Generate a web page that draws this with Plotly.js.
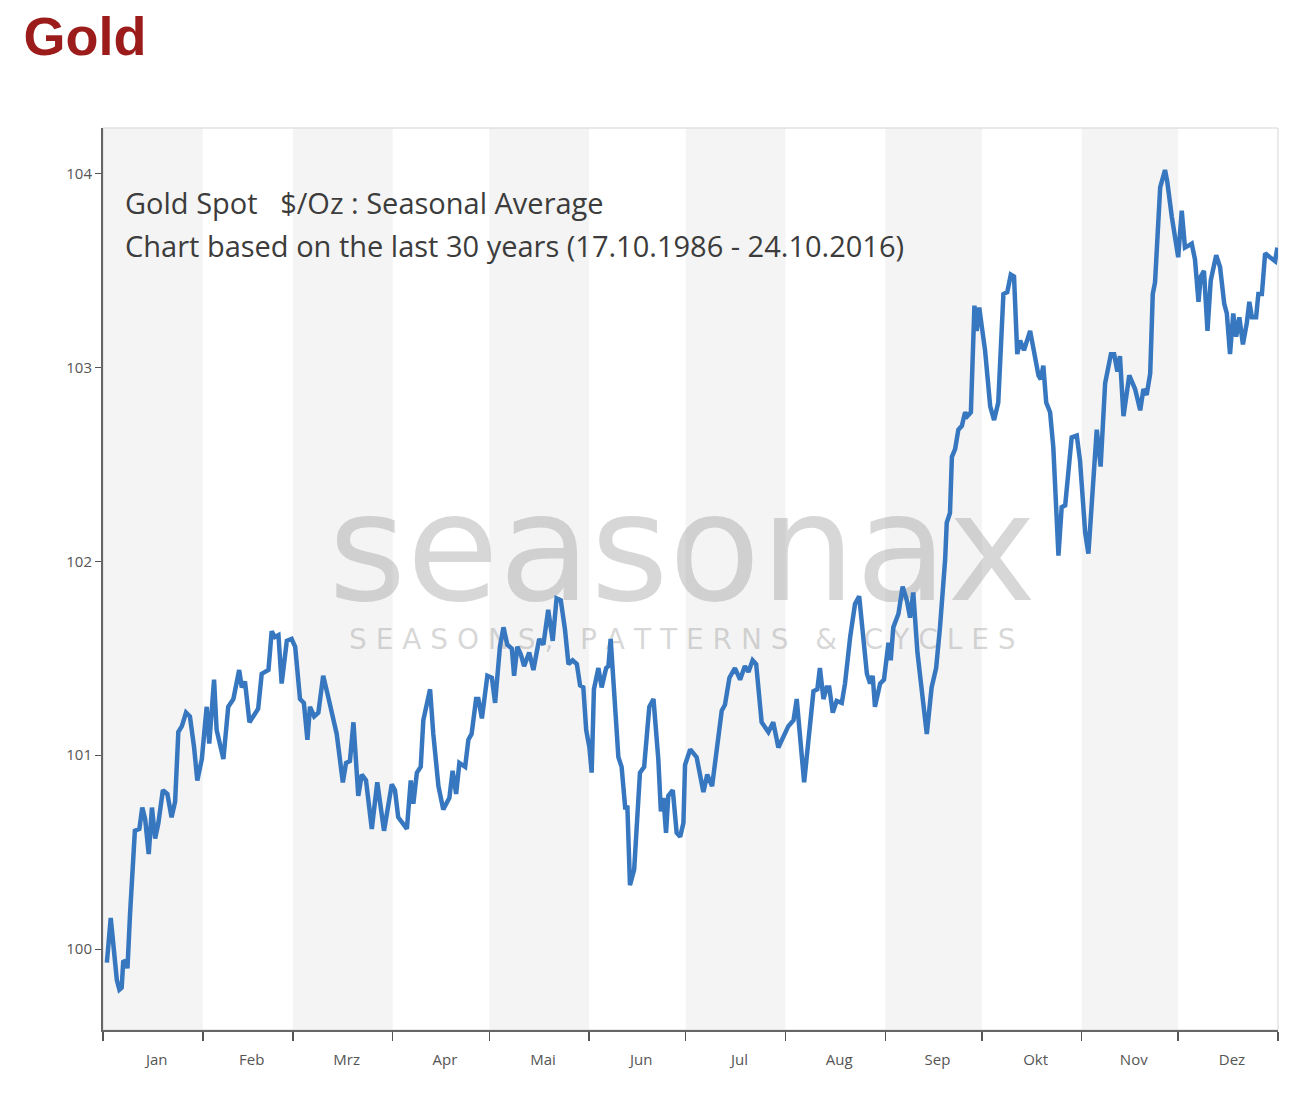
<!DOCTYPE html>
<html>
<head>
<meta charset="utf-8">
<script src="https://cdn.plot.ly/plotly-3.0.1.min.js"></script>
<style>
  html, body { margin: 0; padding: 0; background: #fff; }
  #chart { width: 1303px; height: 1099px; }
</style>
</head>
<body>
<div id="chart"></div>
<script>
const monate = ['Jan', 'Feb', 'Mrz', 'Apr', 'Mai', 'Jun', 'Jul', 'Aug', 'Sep', 'Okt', 'Nov', 'Dez'];
const monatsTage = [31, 28, 31, 30, 31, 30, 31, 31, 30, 31, 30, 31];
const yTicks = [100, 101, 102, 103, 104];

// Tag im Jahr und saisonaler Durchschnitt
const tage = [
  1.2, 2.4, 4.3, 5.1, 5.8, 6.3, 7.2, 7.6, 8.4, 9.9,
  11.3, 12.2, 13.1, 14.2, 15.2, 16.2, 17.2, 18.6, 20.0, 21.3,
  22.4, 23.4, 24.5, 25.8, 27.0, 28.3, 29.3, 30.7, 32.2, 33.0,
  34.5, 35.3, 37.4, 38.9, 40.5, 42.3, 43.1, 44.1, 45.5, 46.9,
  48.2, 49.3, 51.4, 52.4, 53.4, 54.5, 55.5, 57.1, 58.6, 59.7,
  61.2, 62.4, 63.5, 64.3, 65.6, 66.9, 68.4, 69.7, 71.1, 72.6,
  74.5, 75.5, 76.7, 77.8, 79.3, 80.4, 81.7, 83.5, 85.2, 87.3,
  89.7, 90.7, 91.7, 94.4, 95.6, 96.4, 97.5, 98.7, 99.5, 101.6,
  102.6, 104.2, 105.7, 107.6, 108.6, 109.7, 110.7, 112.5, 113.5, 114.5,
  115.9, 116.6, 117.7, 119.4, 120.8, 121.8, 123.3, 124.4, 125.6, 127.0,
  127.7, 128.7, 129.8, 130.8, 132.4, 133.7, 135.5, 136.8, 138.3, 139.7,
  140.9, 142.2, 143.5, 144.6, 145.9, 147.2, 148.2, 149.2, 150.1, 151.1,
  151.8, 152.5, 153.9, 154.9, 156.3, 157.0, 157.7, 158.7, 160.1, 161.1,
  162.2, 162.9, 163.7, 165.0, 166.8, 168.1, 169.7, 171.0, 172.5, 173.3,
  174.1, 174.9, 175.6, 177.0, 178.2, 179.3, 180.3, 180.8, 182.4, 184.4,
  186.5, 187.7, 189.2, 192.2, 193.2, 194.6, 196.3, 197.9, 199.4, 200.5,
  201.8, 202.9, 204.6, 206.7, 208.2, 209.8, 211.3, 212.9, 214.5, 215.5,
  217.8, 220.7, 221.9, 222.7, 223.8, 224.8, 225.6, 226.7, 227.9, 229.5,
  230.5, 232.1, 233.6, 234.9, 237.3, 238.3, 239.1, 239.8, 241.4, 242.6,
  244.0, 244.7, 245.5, 247.1, 248.4, 249.7, 250.7, 251.7, 253.0, 255.9,
  257.4, 258.8, 260.0, 261.6, 262.1, 263.1, 263.7, 264.7, 265.7, 266.8,
  267.8, 268.5, 269.6, 270.7, 271.4, 272.2, 273.0, 274.0, 275.6, 276.8,
  278.1, 279.7, 280.9, 282.0, 283.0, 284.0, 284.9, 286.1, 288.0, 289.5,
  290.6, 291.3, 292.1, 293.0, 294.2, 295.2, 296.8, 297.8, 298.9, 300.9,
  302.5, 303.5, 305.1, 306.1, 307.1, 308.7, 309.9, 310.8, 311.3, 313.1,
  314.1, 315.1, 315.9, 317.0, 318.8, 320.6, 322.2, 323.2, 324.2, 325.3,
  326.1, 326.8, 328.4, 329.9, 330.6, 332.0, 334.0, 335.1, 336.1, 337.2,
  338.2, 339.2, 340.3, 341.0, 342.0, 343.1, 344.1, 345.8, 347.0, 348.3,
  349.1, 350.1, 351.1, 352.0, 353.0, 354.1, 355.3, 356.1, 356.9, 358.2,
  358.9, 360.0, 361.0, 362.5, 364.1, 364.8
];

const werte = [
  99.93, 100.16, 99.84, 99.79, 99.80, 99.94, 99.93, 99.90, 100.18, 100.61,
  100.62, 100.73, 100.67, 100.49, 100.73, 100.57, 100.65, 100.82, 100.80, 100.68,
  100.76, 101.12, 101.15, 101.22, 101.20, 101.04, 100.87, 100.98, 101.25, 101.06,
  101.39, 101.13, 100.98, 101.25, 101.29, 101.44, 101.35, 101.38, 101.17, 101.21,
  101.24, 101.42, 101.44, 101.64, 101.61, 101.62, 101.37, 101.59, 101.60, 101.56,
  101.29, 101.27, 101.08, 101.25, 101.20, 101.22, 101.41, 101.32, 101.22, 101.11,
  100.86, 100.96, 100.97, 101.17, 100.79, 100.90, 100.87, 100.62, 100.86, 100.61,
  100.85, 100.82, 100.68, 100.62, 100.87, 100.75, 100.91, 100.94, 101.18, 101.34,
  101.11, 100.84, 100.72, 100.78, 100.92, 100.80, 100.96, 100.94, 101.08, 101.11,
  101.29, 101.29, 101.19, 101.41, 101.40, 101.27, 101.56, 101.66, 101.57, 101.55,
  101.41, 101.56, 101.52, 101.46, 101.53, 101.44, 101.60, 101.57, 101.75, 101.59,
  101.81, 101.80, 101.65, 101.47, 101.49, 101.47, 101.36, 101.35, 101.13, 101.04,
  100.91, 101.34, 101.45, 101.35, 101.45, 101.46, 101.60, 101.32, 100.99, 100.94,
  100.73, 100.73, 100.33, 100.41, 100.91, 100.94, 101.25, 101.29, 100.98, 100.71,
  100.78, 100.60, 100.79, 100.82, 100.60, 100.58, 100.65, 100.95, 101.03, 100.99,
  100.81, 100.90, 100.84, 101.23, 101.26, 101.40, 101.45, 101.39, 101.46, 101.43,
  101.49, 101.47, 101.17, 101.12, 101.17, 101.04, 101.10, 101.15, 101.18, 101.29,
  100.86, 101.33, 101.34, 101.45, 101.29, 101.35, 101.35, 101.22, 101.28, 101.27,
  101.37, 101.61, 101.78, 101.82, 101.42, 101.37, 101.41, 101.25, 101.37, 101.39,
  101.58, 101.49, 101.66, 101.73, 101.87, 101.80, 101.71, 101.84, 101.53, 101.11,
  101.35, 101.45, 101.66, 102.01, 102.20, 102.25, 102.54, 102.58, 102.68, 102.70,
  102.77, 102.75, 102.77, 103.32, 103.19, 103.31, 103.21, 103.09, 102.80, 102.73,
  102.82, 103.38, 103.39, 103.48, 103.47, 103.07, 103.14, 103.09, 103.19, 103.07,
  102.96, 102.94, 103.01, 102.82, 102.77, 102.59, 102.03, 102.28, 102.29, 102.64,
  102.65, 102.52, 102.15, 102.04, 102.28, 102.68, 102.49, 102.76, 102.92, 103.07,
  103.07, 102.98, 103.06, 102.75, 102.96, 102.89, 102.78, 102.89, 102.86, 102.97,
  103.38, 103.44, 103.93, 104.02, 103.96, 103.78, 103.57, 103.81, 103.62, 103.63,
  103.64, 103.56, 103.34, 103.47, 103.50, 103.19, 103.45, 103.58, 103.52, 103.33,
  103.28, 103.07, 103.28, 103.16, 103.26, 103.12, 103.23, 103.34, 103.26, 103.26,
  103.38, 103.38, 103.59, 103.57, 103.55, 103.62
];

// Monatsgrenzen und -mitten aus den Monatslängen
const grenzen = [0];
monatsTage.forEach(t => grenzen.push(grenzen[grenzen.length - 1] + t));
const mitten = monate.map((m, i) => (grenzen[i] + grenzen[i + 1]) / 2);
const tageImJahr = grenzen[grenzen.length - 1];

const wasserFarbe = 'rgba(150,150,150,0.38)';

const streifen = [];
for (let i = 0; i < monate.length; i += 2) {
  streifen.push({
    type: 'rect', layer: 'below',
    xref: 'x', yref: 'paper',
    x0: grenzen[i], x1: grenzen[i + 1], y0: 0, y1: 1,
    fillcolor: '#f4f4f4', line: { width: 0 }
  });
}
streifen.push({
  type: 'rect', layer: 'below',
  xref: 'paper', yref: 'paper', x0: 0, x1: 1, y0: 0, y1: 1,
  line: { color: '#d4d4d4', width: 1 }
});
// Wasserzeichen als Form-Beschriftung, damit die Linie darüber liegt
streifen.push({
  type: 'rect', layer: 'below',
  xref: 'paper', yref: 'paper', x0: 0.2, x1: 0.786, y0: 0.311, y1: 0.511,
  line: { width: 0 }, fillcolor: 'rgba(0,0,0,0)',
  label: {
    text: '<span style="font-size:150px">seasonax</span><br>' +
      '<span style="font-size:28px">S E A S O N S ,   P A T T E R N S   &amp;   C Y C L E S</span>',
    textposition: 'middle center',
    font: { family: 'DejaVu Sans, sans-serif', size: 38, color: wasserFarbe }
  }
});

const textFont = { family: 'Open Sans, Noto Sans, sans-serif', size: 29, color: '#3c3c3c' };

const trazas = [
  {
    x: tage, y: werte,
    type: 'scatter', mode: 'lines',
    line: { color: '#3777c0', width: 4.5 },
    hoverinfo: 'skip', showlegend: false
  },
  { x: [], y: [], xaxis: 'x2', yaxis: 'y', type: 'scatter', showlegend: false }
];

const layout = {
  width: 1303, height: 1099,
  paper_bgcolor: '#ffffff', plot_bgcolor: '#ffffff',
  margin: { l: 103, r: 25, t: 128, b: 69 },
  showlegend: false,
  title: {
    text: '<b>Gold</b>',
    xref: 'container', yref: 'container',
    x: 0.018, y: 0.967, xanchor: 'left', yanchor: 'middle',
    font: { family: 'Liberation Sans, Arial, sans-serif', size: 54, color: '#9c1c1c' }
  },
  xaxis: {
    range: [0, tageImJahr],
    tickmode: 'array', tickvals: grenzen, showticklabels: false,
    ticks: 'outside', ticklen: 9, tickwidth: 1.5, tickcolor: '#555',
    showline: true, linecolor: '#666', linewidth: 2,
    showgrid: false, zeroline: false, fixedrange: true
  },
  xaxis2: {
    overlaying: 'x', anchor: 'y', side: 'bottom',
    range: [-1.2, tageImJahr - 1.2],
    tickmode: 'array', tickvals: mitten, ticktext: monate,
    ticks: 'outside', ticklen: 16, tickcolor: 'rgba(0,0,0,0)',
    tickfont: { family: 'Open Sans, Noto Sans, sans-serif', size: 15, color: '#555' },
    showline: false, showgrid: false, zeroline: false, fixedrange: true
  },
  yaxis: {
    range: [99.582, 104.237],
    tickmode: 'array', tickvals: yTicks,
    ticks: 'outside', ticklen: 6, tickwidth: 1, tickcolor: '#555',
    tickfont: { family: 'Open Sans, Noto Sans, sans-serif', size: 15, color: '#555' },
    showline: true, linecolor: '#666', linewidth: 2,
    showgrid: false, zeroline: false, fixedrange: true
  },
  shapes: streifen,
  annotations: [
    {
      text: 'Gold Spot\u00a0\u00a0\u00a0$/Oz : Seasonal Average',
      xref: 'paper', yref: 'paper', x: 0.017, y: 0.917,
      xanchor: 'left', yanchor: 'middle', showarrow: false,
      font: textFont
    },
    {
      text: 'Chart based on the last 30 years (17.10.1986 - 24.10.2016)',
      xref: 'paper', yref: 'paper', x: 0.017, y: 0.870,
      xanchor: 'left', yanchor: 'middle', showarrow: false,
      font: textFont
    }
  ]
};

Plotly.newPlot('chart', trazas, layout, { staticPlot: true, displayModeBar: false });
</script>
</body>
</html>
